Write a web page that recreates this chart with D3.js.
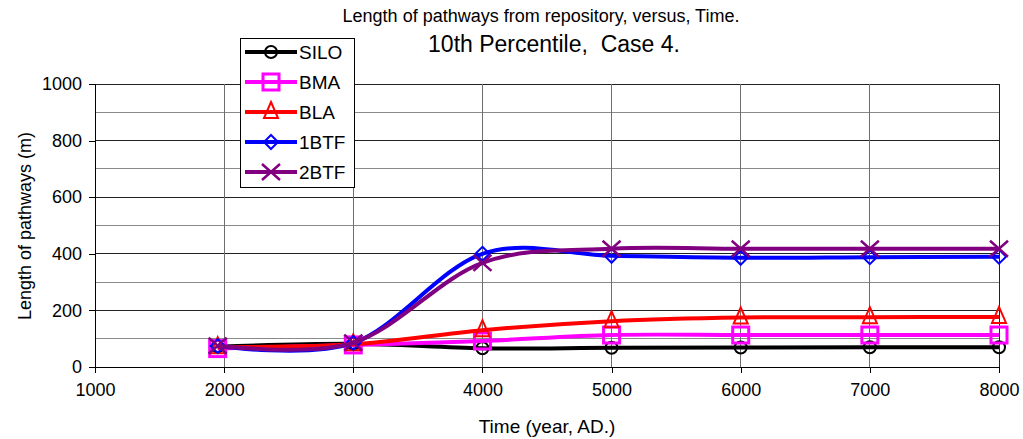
<!DOCTYPE html>
<html>
<head>
<meta charset="utf-8">
<script src="https://cdn.jsdelivr.net/npm/d3@7"></script>
<style>
  html, body { margin: 0; padding: 0; background: #fff; }
  svg { display: block; font-family: "Liberation Sans", Arial, sans-serif; }
</style>
</head>
<body>
<svg id="chart" width="1023" height="439"></svg>
<script>
// Simulation years and pathway lengths (m) per repository part
const years = [1950, 3000, 4000, 5000, 6000, 7000, 8000];
const silo  = [72, 82, 66, 68, 69, 70, 70];
const bma   = [65, 78, 92, 113, 113, 113, 113];
const bla   = [70, 80, 130, 162, 175, 176, 177];
const btf1  = [74, 85, 400, 393, 386, 388, 390];
const btf2  = [75, 86, 368, 418, 418, 418, 418];

const seriesNames = ["SILO", "BMA", "BLA", "1BTF", "2BTF"];
const seriesColors = ["#000000", "#ff00ff", "#ff0000", "#0000ff", "#800080"];
const seriesMarkers = ["circle", "square", "triangle", "diamond", "cross"];
const seriesValues = [silo, bma, bla, btf1, btf2];

const xTicks = [1000, 2000, 3000, 4000, 5000, 6000, 7000, 8000];
const yTicks = [0, 200, 400, 600, 800, 1000];
const yGrid = d3.range(0, 1001, 100);

const svg = d3.select("#chart");
const x = d3.scaleLinear().domain([1000, 8000]).range([95, 999]);
const y = d3.scaleLinear().domain([0, 1000]).range([367, 84]);

// Grid
svg.append("g").selectAll("line").data(yGrid).join("line")
  .attr("x1", x(1000)).attr("x2", x(8000))
  .attr("y1", d => y(d)).attr("y2", d => y(d))
  .attr("stroke", d => d % 200 === 0 ? "#222" : "#8a8a8a")
  .attr("stroke-width", 1).attr("shape-rendering", "crispEdges");
svg.append("g").selectAll("line").data(xTicks.slice(1)).join("line")
  .attr("x1", d => x(d)).attr("x2", d => x(d))
  .attr("y1", y(0)).attr("y2", y(1000))
  .attr("stroke", d => d === 8000 ? "#222" : "#6e6e6e")
  .attr("stroke-width", 1).attr("shape-rendering", "crispEdges");

// Axes
const xAxis = svg.append("g").attr("transform", `translate(0,${y(0)})`)
  .call(d3.axisBottom(x).tickValues(xTicks).tickFormat(d3.format("d")).tickSize(6).tickPadding(10));
const yAxis = svg.append("g").attr("transform", `translate(${x(1000)},0)`)
  .call(d3.axisLeft(y).tickValues(yTicks).tickFormat(d3.format("d")).tickSize(6).tickPadding(7));
[xAxis, yAxis].forEach(g => {
  g.select(".domain").attr("stroke", "#000").attr("shape-rendering", "crispEdges");
  g.selectAll(".tick line").attr("stroke", "#000").attr("shape-rendering", "crispEdges");
  g.selectAll("text").attr("font-size", 18).attr("fill", "#000")
    .attr("font-family", "Liberation Sans, Arial, sans-serif");
});

// Marker shapes
function marker(g, type, color) {
  const sw = 2;
  if (type === "circle") {
    g.append("circle").attr("r", 6).attr("fill", "none").attr("stroke", color).attr("stroke-width", sw);
  } else if (type === "square") {
    g.append("rect").attr("x", -8).attr("y", -8).attr("width", 16).attr("height", 16)
      .attr("fill", "none").attr("stroke", color).attr("stroke-width", 3);
  } else if (type === "triangle") {
    g.append("path").attr("d", "M0,-10 L7,6 L-7,6 Z").attr("fill", "none").attr("stroke", color).attr("stroke-width", sw);
  } else if (type === "diamond") {
    g.append("path").attr("d", "M0,-7 L7,0 L0,7 L-7,0 Z").attr("fill", "none").attr("stroke", color).attr("stroke-width", sw);
  } else if (type === "cross") {
    g.append("path").attr("d", "M-9,-8 L9,8 M-9,8 L9,-8").attr("fill", "none").attr("stroke", color).attr("stroke-width", sw + 0.5);
  }
}

// Smoothed series lines with markers
const line = d3.line().curve(d3.curveCardinal.tension(0))
  .x(d => x(d[0])).y(d => y(d[1]));

seriesValues.forEach((vals, i) => {
  const pts = years.map((yr, j) => [yr, vals[j]]);
  const g = svg.append("g");
  g.append("path").datum(pts).attr("d", line)
    .attr("fill", "none").attr("stroke", seriesColors[i]).attr("stroke-width", 4)
    .attr("stroke-linejoin", "round");
  g.selectAll("g.m").data(pts).join("g").attr("class", "m")
    .attr("transform", d => `translate(${x(d[0])},${y(d[1])})`)
    .each(function() { marker(d3.select(this), seriesMarkers[i], seriesColors[i]); });
});

// Titles
svg.append("text").attr("x", 541).attr("y", 22).attr("text-anchor", "middle")
  .attr("font-size", 18).text("Length of pathways from repository, versus, Time.");
svg.append("text").attr("x", 554).attr("y", 52).attr("text-anchor", "middle")
  .attr("font-size", 23).style("white-space", "pre").text("10th Percentile,  Case 4.");
svg.append("text").attr("x", 547).attr("y", 433).attr("text-anchor", "middle")
  .attr("font-size", 19).text("Time (year, AD.)");
svg.append("text").attr("transform", "translate(31,226) rotate(-90)").attr("text-anchor", "middle")
  .attr("font-size", 18).text("Length of pathways (m)");

// Legend
const lg = svg.append("g");
lg.append("rect").attr("x", 240.5).attr("y", 38.5).attr("width", 114).attr("height", 149)
  .attr("fill", "#fff").attr("stroke", "#000").attr("stroke-width", 1);
seriesNames.forEach((name, i) => {
  const cy = 52 + i * 30;
  lg.append("line").attr("x1", 245).attr("x2", 297).attr("y1", cy).attr("y2", cy)
    .attr("stroke", seriesColors[i]).attr("stroke-width", 4);
  const m = lg.append("g").attr("transform", `translate(271,${cy})`);
  marker(m, seriesMarkers[i], seriesColors[i]);
  lg.append("text").attr("x", 299).attr("y", cy + 7).attr("font-size", 19).text(name);
});
</script>
</body>
</html>
